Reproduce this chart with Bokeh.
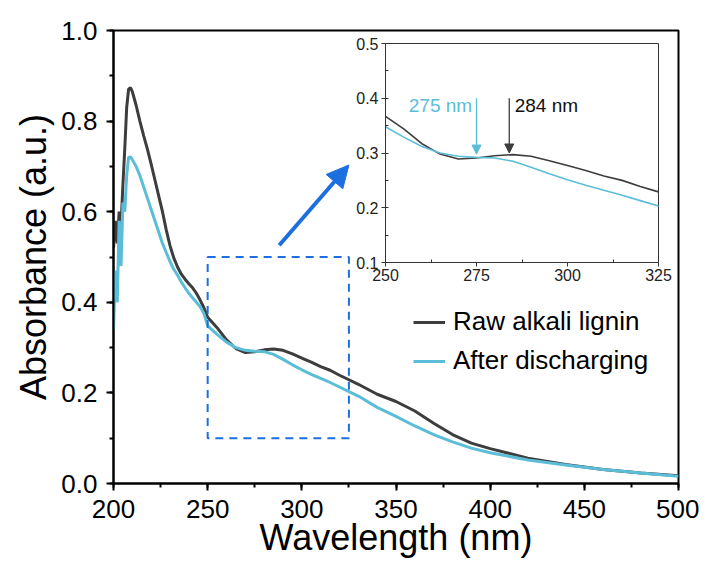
from bokeh.plotting import figure
from bokeh.layouts import column
from bokeh.models import (Arrow, NormalHead, Label, SingleIntervalTicker,
                          PrintfTickFormatter, FixedTicker)
from bokeh.embed import file_html
from bokeh.resources import INLINE

# ---- data ----
wavelength = [200, 201, 202, 203, 204, 205, 206, 207, 208, 209, 210, 212, 214, 216, 218,
              220, 222, 224, 226, 228, 230, 232, 234, 236, 238, 240, 242, 244, 246, 248,
              250, 255, 260, 265, 270, 275, 280, 285, 290, 295, 300, 305, 310, 315, 320,
              325, 330, 340, 350, 360, 370, 380, 390, 400, 420, 440, 460, 480, 500]
raw_lignin = [0.52, 0.58, 0.53, 0.60, 0.57, 0.66, 0.74, 0.83, 0.87, 0.874, 0.865, 0.835, 0.80,
              0.768, 0.738, 0.705, 0.67, 0.635, 0.60, 0.56, 0.525, 0.498, 0.478, 0.462, 0.451,
              0.441, 0.432, 0.42, 0.405, 0.388, 0.367, 0.344, 0.317, 0.298, 0.289, 0.291,
              0.295, 0.297, 0.294, 0.286, 0.277, 0.268, 0.258, 0.250, 0.239, 0.229, 0.219,
              0.197, 0.181, 0.160, 0.133, 0.108, 0.089, 0.077, 0.056, 0.042, 0.031, 0.023, 0.017]
after_discharge = [0.34, 0.47, 0.40, 0.58, 0.48, 0.62, 0.60, 0.68, 0.72, 0.721, 0.715, 0.70,
                   0.68, 0.655, 0.63, 0.605, 0.58, 0.555, 0.53, 0.51, 0.49, 0.473, 0.46, 0.445,
                   0.432, 0.42, 0.41, 0.40, 0.39, 0.375, 0.348, 0.329, 0.312, 0.300, 0.294,
                   0.292, 0.291, 0.285, 0.274, 0.262, 0.251, 0.241, 0.232, 0.223, 0.213, 0.203,
                   0.193, 0.168, 0.148, 0.127, 0.108, 0.092, 0.078, 0.068, 0.052, 0.041, 0.031,
                   0.023, 0.016]
series_names = ["Raw alkali lignin", "After discharging"]
zoom_box_x = [250, 325]
zoom_box_y = [0.1, 0.5]
pointer_start = [288, 0.526]
pointer_end = [325, 0.703]
peak_positions = [275, 284]
peak_labels = ["275 nm", "284 nm"]
peak_arrow_top = 0.40
peak_arrow_tip = [0.298, 0.300]
peak_label_y = 0.387

DARK = "#3d3d3d"
CYAN = "#5bbdd7"
BLUE = "#1d6fe0"
FONT = "Liberation Sans"

# ---- main figure ----
W, H = 699, 560
BL, BR, BT, BB = 113, 21, 30, 76
p = figure(width=W, height=H, x_range=(200, 500), y_range=(0, 1),
           output_backend="svg", toolbar_location=None,
           min_border_left=BL, min_border_right=BR, min_border_top=BT, min_border_bottom=BB)
p.xgrid.visible = False
p.ygrid.visible = False
p.outline_line_color = "black"
p.outline_line_width = 2

p.xaxis.ticker = SingleIntervalTicker(interval=50, num_minor_ticks=2)
p.yaxis.ticker = SingleIntervalTicker(interval=0.2, num_minor_ticks=2)
p.yaxis.formatter = PrintfTickFormatter(format="%.1f")
for ax in (p.xaxis, p.yaxis):
    ax.axis_line_width = 2
    ax.axis_line_color = "black"
    ax.major_tick_line_width = 2
    ax.minor_tick_line_width = 2
    ax.major_tick_out = 7
    ax.major_tick_in = 0
    ax.minor_tick_out = 4
    ax.minor_tick_in = 0
    ax.major_label_text_font = FONT
    ax.major_label_text_font_size = "26px"
    ax.major_label_text_color = "black"
    ax.axis_label_text_font = FONT
    ax.axis_label_text_font_size = "36px"
    ax.axis_label_text_font_style = "normal"
    ax.axis_label_text_color = "black"
p.xaxis.axis_label = "Wavelength (nm)"
p.yaxis.axis_label = "Absorbance (a.u.)"
p.xaxis.major_label_standoff = 9
p.yaxis.major_label_standoff = 9
p.xaxis.axis_label_standoff = -4
p.yaxis.axis_label_standoff = 4

p.line(wavelength, raw_lignin, line_color=DARK, line_width=3, legend_label=series_names[0])
p.line(wavelength, after_discharge, line_color=CYAN, line_width=3, legend_label=series_names[1])

p.quad(left=[zoom_box_x[0]], right=[zoom_box_x[1]], bottom=[zoom_box_y[0]], top=[zoom_box_y[1]],
       fill_alpha=0, line_color=BLUE, line_width=2, line_dash="8 6")
p.add_layout(Arrow(x_start=pointer_start[0], y_start=pointer_start[1],
                   x_end=pointer_end[0], y_end=pointer_end[1],
                   line_color=BLUE, line_width=4,
                   end=NormalHead(size=22, fill_color=BLUE, line_color=BLUE)))

lg = p.legend[0]
lg.location = (295, 102)
lg.label_text_font = FONT
lg.label_text_font_size = "26px"
lg.label_text_color = "black"
lg.glyph_width = 32
lg.glyph_height = 26
lg.label_height = 26
lg.label_standoff = 8
lg.spacing = 8
lg.padding = 5
lg.border_line_alpha = 0
lg.background_fill_alpha = 0

# ---- inset figure (overlaid; its side borders are aligned with the main plot's) ----
FRAME_L, FRAME_T, FRAME_W, FRAME_H = 385, 43, 273, 219
IBT, IBB = 10, 26
IW = BL + FRAME_W + BR
IH = IBT + FRAME_H + IBB
IL = FRAME_L - BL
IT = FRAME_T - IBT
ins = figure(width=IW, height=IH, x_range=(250, 325), y_range=(0.1, 0.5),
             output_backend="svg", toolbar_location=None,
             min_border_left=BL, min_border_right=BR, min_border_top=IBT, min_border_bottom=IBB)
ins.margin = (IT - H, 0, H - IT - IH, IL)
ins.background_fill_alpha = 0
ins.border_fill_alpha = 0
ins.xgrid.visible = False
ins.ygrid.visible = False
ins.outline_line_color = "#333333"
ins.outline_line_width = 1
ins.xaxis.ticker = FixedTicker(ticks=[250, 275, 300, 325], minor_ticks=[262.5, 287.5, 312.5])
ins.yaxis.ticker = SingleIntervalTicker(interval=0.1, num_minor_ticks=2)
ins.yaxis.formatter = PrintfTickFormatter(format="%.1f")
for ax in (ins.xaxis, ins.yaxis):
    ax.axis_line_width = 1
    ax.axis_line_color = "#333333"
    ax.major_tick_line_color = "#333333"
    ax.minor_tick_line_color = "#333333"
    ax.major_tick_out = 4
    ax.major_tick_in = 0
    ax.minor_tick_out = 0
    ax.minor_tick_in = 3
    ax.major_label_text_font = FONT
    ax.major_label_text_font_size = "16px"
    ax.major_label_text_color = "#222222"
ins.xaxis.major_label_standoff = 2
ins.yaxis.major_label_standoff = 3

ins.line(wavelength, raw_lignin, line_color=DARK, line_width=1.6)
ins.line(wavelength, after_discharge, line_color=CYAN, line_width=1.6)

for xp, tip, col in zip(peak_positions, peak_arrow_tip, [CYAN, DARK]):
    ins.add_layout(Arrow(x_start=xp, y_start=peak_arrow_top, x_end=xp, y_end=tip,
                         line_color=col, line_width=1.3,
                         end=NormalHead(size=9, fill_color=col, line_color=col)))
ins.add_layout(Label(x=peak_positions[0] - 1.2, y=peak_label_y, text=peak_labels[0],
                     text_align="right", text_baseline="middle", text_color=CYAN,
                     text_font=FONT, text_font_size="19px"))
ins.add_layout(Label(x=peak_positions[1] + 1.5, y=peak_label_y, text=peak_labels[1],
                     text_align="left", text_baseline="middle", text_color="#111111",
                     text_font=FONT, text_font_size="19px"))

layout = column(p, ins, spacing=0)
open("out.html", "w").write(file_html(layout, INLINE))
